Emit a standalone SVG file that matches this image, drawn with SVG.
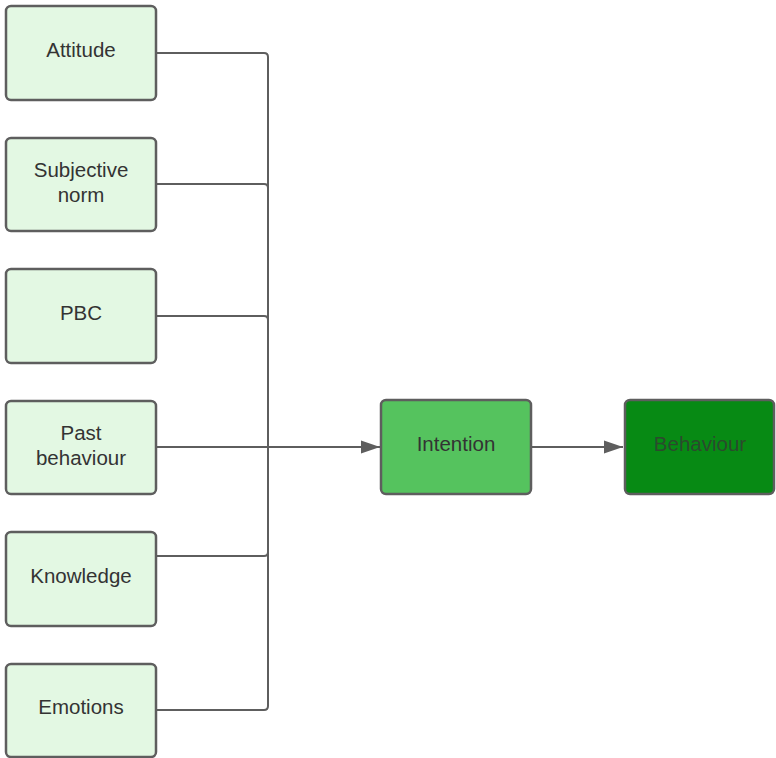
<svg xmlns="http://www.w3.org/2000/svg" width="776" height="758" viewBox="0 0 776 758">
  <defs>
    <marker id="arrow" markerWidth="20" markerHeight="14" refX="19" refY="7" orient="auto" markerUnits="userSpaceOnUse">
      <path d="M0,0.5 L19,7 L0,13.5 Z" fill="#5e5e5e"/>
    </marker>
    <style>
      .factor rect { fill: #e3f8e3; stroke: #5e5e5e; stroke-width: 2.5; }
      .mid rect { fill: #55c35e; stroke: #5e5e5e; stroke-width: 2.5; }
      .out rect { fill: #078a14; stroke: #5e5e5e; stroke-width: 2.5; }
      text { font-family: "Liberation Sans", Arial, sans-serif; font-size: 20.5px; fill: #333333; text-anchor: middle; }
      .out text { fill: #2b4a2d; }
      .wire { fill: none; stroke: #5e5e5e; stroke-width: 2; }
    </style>
  </defs>
  <rect width="776" height="758" fill="#ffffff"/>

  <g id="connectors">
    <path class="wire" d="M157,53 H264 Q268,53 268,57 V706 Q268,710 264,710 H157"/>
    <path class="wire" d="M157,184 H264 Q268,184 268,188"/>
    <path class="wire" d="M157,316 H264 Q268,316 268,320"/>
    <path class="wire" d="M157,556 H264 Q268,556 268,552"/>
    <path class="wire" d="M157,447 H380" marker-end="url(#arrow)"/>
    <path class="wire" d="M532,447 H623" marker-end="url(#arrow)"/>
  </g>

  <g id="attitude" class="factor">
    <rect x="6" y="6" width="150" height="94" rx="5"/>
    <text x="81" y="57">Attitude</text>
  </g>
  <g id="subjective-norm" class="factor">
    <rect x="6" y="138" width="150" height="93" rx="5"/>
    <text x="81" y="177">Subjective</text>
    <text x="81" y="202">norm</text>
  </g>
  <g id="pbc" class="factor">
    <rect x="6" y="269" width="150" height="94" rx="5"/>
    <text x="81" y="320">PBC</text>
  </g>
  <g id="past-behaviour" class="factor">
    <rect x="6" y="401" width="150" height="93" rx="5"/>
    <text x="81" y="440">Past</text>
    <text x="81" y="465">behaviour</text>
  </g>
  <g id="knowledge" class="factor">
    <rect x="6" y="532" width="150" height="94" rx="5"/>
    <text x="81" y="583">Knowledge</text>
  </g>
  <g id="emotions" class="factor">
    <rect x="6" y="664" width="150" height="93" rx="5"/>
    <text x="81" y="714">Emotions</text>
  </g>

  <g id="intention" class="mid">
    <rect x="381" y="400" width="150" height="94" rx="5"/>
    <text x="456" y="451">Intention</text>
  </g>
  <g id="behaviour" class="out">
    <rect x="625" y="400" width="149" height="94" rx="5"/>
    <text x="700" y="451">Behaviour</text>
  </g>
</svg>
